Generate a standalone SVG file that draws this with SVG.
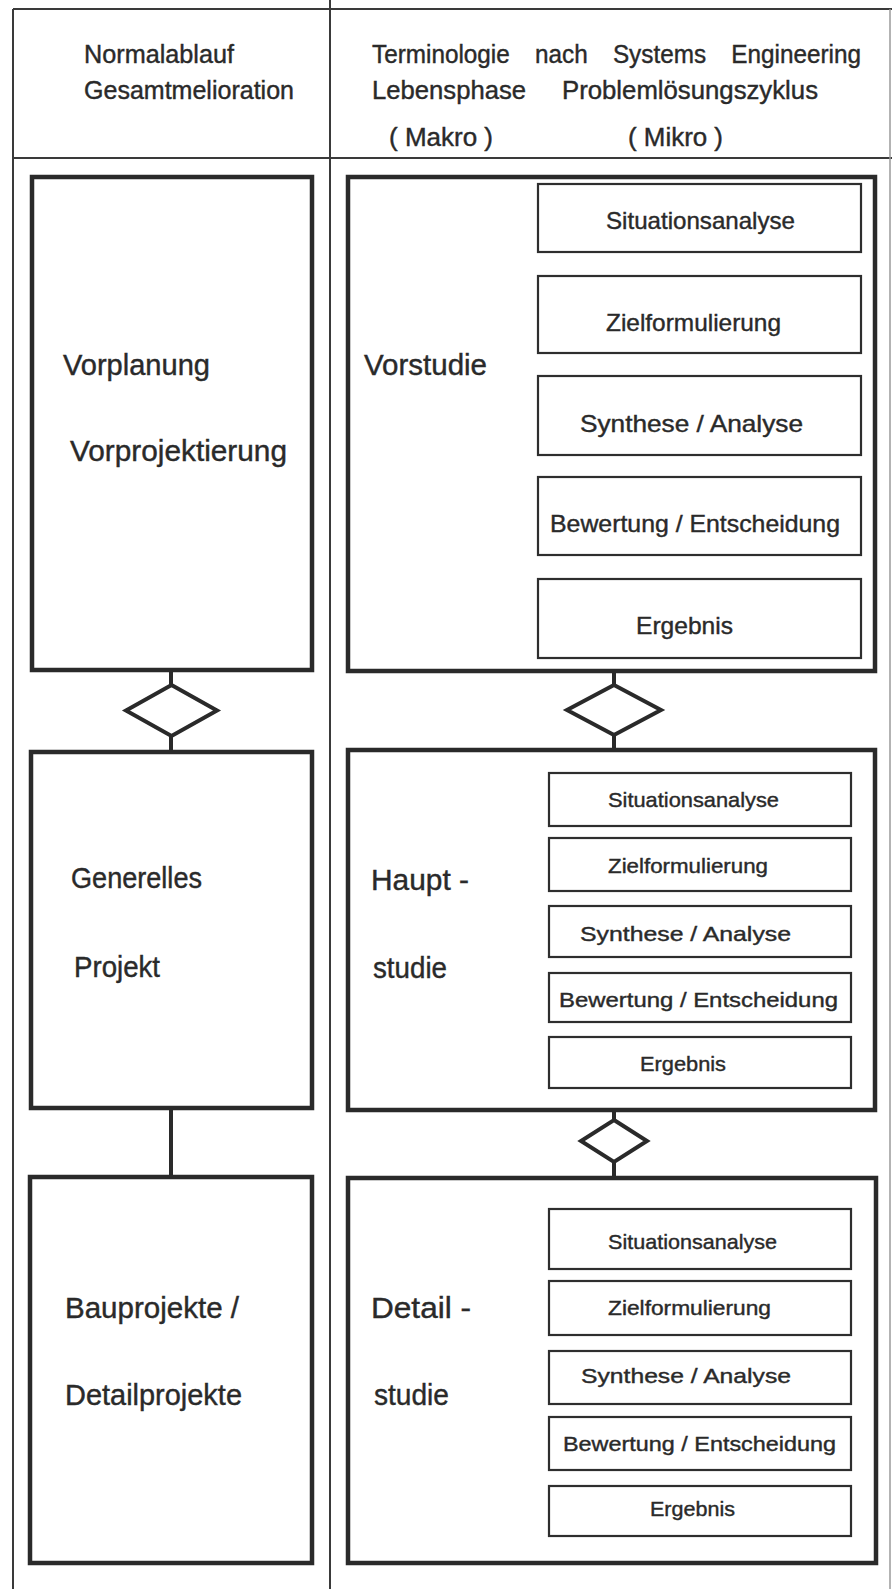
<svg xmlns="http://www.w3.org/2000/svg" width="892" height="1589" viewBox="0 0 892 1589">
<style>
  .frame { stroke: #3a3a3a; stroke-width: 2; fill: none; }
  .faint { stroke: #9a9a9a; stroke-width: 1.5; fill: none; }
  .big { stroke: #2a2a2a; stroke-width: 4.5; fill: #ffffff; }
  .small { stroke: #2e2e2e; stroke-width: 2.2; fill: #ffffff; }
  .conn { stroke: #2a2a2a; stroke-width: 4; fill: none; }
  .dia { stroke: #2a2a2a; stroke-width: 4; fill: #ffffff; stroke-linejoin: miter; }
  text { font-family: "Liberation Sans", Arial, sans-serif; fill: #2a2a2a; stroke: #2a2a2a; stroke-width: 0.4; }
  .hdr { font-size: 25px; }
  .lbl { font-size: 29px; }
  .in1 { font-size: 24px; }
  .in2 { font-size: 21px; }
</style>
<rect x="0" y="0" width="892" height="1589" fill="#ffffff"/>

<g id="frame">
  <line class="frame" x1="13" y1="9" x2="892" y2="9"/>
  <line class="frame" x1="13" y1="9" x2="13" y2="1589"/>
  <line class="frame" x1="330" y1="0" x2="330" y2="1589"/>
  <line class="frame" x1="13" y1="158" x2="892" y2="158"/>
  <line class="faint" x1="890" y1="9" x2="890" y2="1589"/>
</g>

<g id="header">
  <text class="hdr" x="84" y="63" textLength="150" lengthAdjust="spacingAndGlyphs">Normalablauf</text>
  <text class="hdr" x="84" y="99" textLength="210" lengthAdjust="spacingAndGlyphs">Gesamtmelioration</text>
  <text class="hdr" x="372" y="63" word-spacing="19" textLength="489" lengthAdjust="spacingAndGlyphs">Terminologie nach Systems Engineering</text>
  <text class="hdr" x="372" y="99" textLength="154" lengthAdjust="spacingAndGlyphs">Lebensphase</text>
  <text class="hdr" x="562" y="99" textLength="256" lengthAdjust="spacingAndGlyphs">Problemlösungszyklus</text>
  <text class="hdr" x="389" y="146" textLength="104" lengthAdjust="spacingAndGlyphs">( Makro )</text>
  <text class="hdr" x="628" y="146" textLength="95" lengthAdjust="spacingAndGlyphs">( Mikro )</text>
</g>

<g id="connectors">
  <line class="conn" x1="171" y1="670" x2="171" y2="752"/>
  <line class="conn" x1="171" y1="1108" x2="171" y2="1177"/>
  <line class="conn" x1="614" y1="671" x2="614" y2="750"/>
  <line class="conn" x1="614" y1="1110" x2="614" y2="1178"/>
  <line class="conn" x1="696" y1="252" x2="696" y2="579" stroke-width="5"/>
  <line class="conn" x1="700" y1="826" x2="700" y2="1037"/>
  <line class="conn" x1="699" y1="1269" x2="699" y2="1486"/>
</g>

<g id="vorplanung">
  <rect class="big" x="32" y="177" width="280" height="493"/>
  <text class="lbl" x="63" y="375" textLength="147" lengthAdjust="spacingAndGlyphs">Vorplanung</text>
  <text class="lbl" x="70" y="461" textLength="217" lengthAdjust="spacingAndGlyphs">Vorprojektierung</text>
</g>
<g id="diamond-left">
  <polygon class="dia" points="171.5,685 217,710.5 171.5,736 126,710.5"/>
</g>
<g id="generelles-projekt">
  <rect class="big" x="31" y="752" width="281" height="356"/>
  <text class="lbl" x="71" y="888" textLength="131" lengthAdjust="spacingAndGlyphs">Generelles</text>
  <text class="lbl" x="74" y="977" textLength="86" lengthAdjust="spacingAndGlyphs">Projekt</text>
</g>
<g id="bauprojekte">
  <rect class="big" x="30" y="1177" width="282" height="386"/>
  <text class="lbl" x="65" y="1318" textLength="174" lengthAdjust="spacingAndGlyphs">Bauprojekte /</text>
  <text class="lbl" x="65" y="1405" textLength="177" lengthAdjust="spacingAndGlyphs">Detailprojekte</text>
</g>

<g id="vorstudie">
  <rect class="big" x="348" y="177" width="527" height="494"/>
  <text class="lbl" x="364" y="375" textLength="123" lengthAdjust="spacingAndGlyphs">Vorstudie</text>
  <g id="v-situation"><rect class="small" x="538" y="184" width="323" height="68"/><text class="in1" x="606" y="229" textLength="189" lengthAdjust="spacingAndGlyphs">Situationsanalyse</text></g>
  <g id="v-ziel"><rect class="small" x="538" y="276" width="323" height="77"/><text class="in1" x="606" y="331" textLength="175" lengthAdjust="spacingAndGlyphs">Zielformulierung</text></g>
  <g id="v-synthese"><rect class="small" x="538" y="376" width="323" height="79"/><text class="in1" x="580" y="432" textLength="223" lengthAdjust="spacingAndGlyphs">Synthese / Analyse</text></g>
  <g id="v-bewertung"><rect class="small" x="538" y="477" width="323" height="78"/><text class="in1" x="550" y="532" textLength="290" lengthAdjust="spacingAndGlyphs">Bewertung / Entscheidung</text></g>
  <g id="v-ergebnis"><rect class="small" x="538" y="579" width="323" height="79"/><text class="in1" x="636" y="634" textLength="97" lengthAdjust="spacingAndGlyphs">Ergebnis</text></g>
</g>
<g id="diamond-right-1">
  <polygon class="dia" points="614,685 661,710 614,735 567,710"/>
</g>
<g id="hauptstudie">
  <rect class="big" x="348" y="750" width="527" height="360"/>
  <text class="lbl" x="371" y="890" textLength="98" lengthAdjust="spacingAndGlyphs">Haupt -</text>
  <text class="lbl" x="373" y="978" textLength="74" lengthAdjust="spacingAndGlyphs">studie</text>
  <g id="h-situation"><rect class="small" x="549" y="773" width="302" height="53"/><text class="in2" x="608" y="807" textLength="171" lengthAdjust="spacingAndGlyphs">Situationsanalyse</text></g>
  <g id="h-ziel"><rect class="small" x="549" y="838" width="302" height="53"/><text class="in2" x="608" y="873" textLength="160" lengthAdjust="spacingAndGlyphs">Zielformulierung</text></g>
  <g id="h-synthese"><rect class="small" x="549" y="906" width="302" height="51"/><text class="in2" x="580" y="941" textLength="211" lengthAdjust="spacingAndGlyphs">Synthese / Analyse</text></g>
  <g id="h-bewertung"><rect class="small" x="549" y="973" width="302" height="49"/><text class="in2" x="559" y="1007" textLength="279" lengthAdjust="spacingAndGlyphs">Bewertung / Entscheidung</text></g>
  <g id="h-ergebnis"><rect class="small" x="549" y="1037" width="302" height="51"/><text class="in2" x="640" y="1071" textLength="86" lengthAdjust="spacingAndGlyphs">Ergebnis</text></g>
</g>
<g id="diamond-right-2">
  <polygon class="dia" points="614,1120 647,1141 614,1162 581,1141"/>
</g>
<g id="detailstudie">
  <rect class="big" x="348" y="1178" width="528" height="385"/>
  <text class="lbl" x="371" y="1318" textLength="100" lengthAdjust="spacingAndGlyphs">Detail -</text>
  <text class="lbl" x="374" y="1405" textLength="75" lengthAdjust="spacingAndGlyphs">studie</text>
  <g id="d-situation"><rect class="small" x="549" y="1209" width="302" height="60"/><text class="in2" x="608" y="1249" textLength="169" lengthAdjust="spacingAndGlyphs">Situationsanalyse</text></g>
  <g id="d-ziel"><rect class="small" x="549" y="1281" width="302" height="54"/><text class="in2" x="608" y="1315" textLength="163" lengthAdjust="spacingAndGlyphs">Zielformulierung</text></g>
  <g id="d-synthese"><rect class="small" x="549" y="1351" width="302" height="53"/><text class="in2" x="581" y="1383" textLength="210" lengthAdjust="spacingAndGlyphs">Synthese / Analyse</text></g>
  <g id="d-bewertung"><rect class="small" x="549" y="1417" width="302" height="53"/><text class="in2" x="563" y="1451" textLength="273" lengthAdjust="spacingAndGlyphs">Bewertung / Entscheidung</text></g>
  <g id="d-ergebnis"><rect class="small" x="549" y="1486" width="302" height="50"/><text class="in2" x="650" y="1516" textLength="85" lengthAdjust="spacingAndGlyphs">Ergebnis</text></g>
</g>
</svg>
